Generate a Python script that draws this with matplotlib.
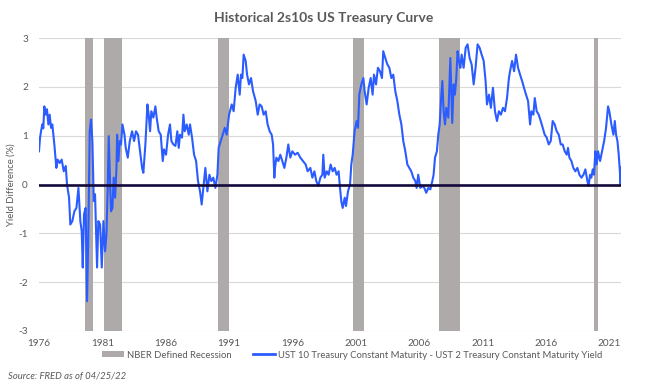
import matplotlib
matplotlib.use("Agg")
import matplotlib.pyplot as plt
from matplotlib.patches import Patch
from matplotlib.lines import Line2D

plt.rcParams['font.family'] = ['Lato', 'DejaVu Sans']

# decimal year, 10y - 2y spread (%)
years = [
    1976.42, 1976.50, 1976.58, 1976.68, 1976.76, 1976.84, 1976.95, 1977.05, 1977.16, 1977.26,
    1977.37, 1977.47, 1977.63, 1977.79, 1977.89, 1978.05, 1978.21, 1978.37, 1978.53, 1978.63,
    1978.79, 1978.89, 1979.05, 1979.21, 1979.37, 1979.53, 1979.68, 1979.79, 1979.87, 1979.97,
    1980.10, 1980.21, 1980.31, 1980.42, 1980.52, 1980.63, 1980.74, 1980.84, 1981.00, 1981.10,
    1981.24, 1981.37, 1981.50, 1981.63, 1981.74, 1981.84, 1981.92, 1982.03, 1982.10, 1982.21,
    1982.31, 1982.42, 1982.53, 1982.58, 1982.68, 1982.79, 1982.89, 1983.00, 1983.16, 1983.26,
    1983.42, 1983.58, 1983.76, 1983.92, 1984.07, 1984.23, 1984.39, 1984.55, 1984.65, 1984.81,
    1984.97, 1985.07, 1985.18, 1985.28, 1985.44, 1985.60, 1985.70, 1985.86, 1986.02, 1986.18,
    1986.28, 1986.44, 1986.60, 1986.75, 1986.86, 1987.02, 1987.18, 1987.33, 1987.44, 1987.54,
    1987.70, 1987.81, 1987.91, 1988.07, 1988.23, 1988.33, 1988.49, 1988.65, 1988.81, 1988.96,
    1989.12, 1989.25, 1989.38, 1989.54, 1989.70, 1989.86, 1990.01, 1990.17, 1990.33, 1990.49,
    1990.59, 1990.75, 1990.91, 1991.07, 1991.22, 1991.41, 1991.62, 1991.77, 1991.93, 1992.09,
    1992.25, 1992.35, 1992.46, 1992.56, 1992.72, 1992.83, 1992.98, 1993.14, 1993.30, 1993.51,
    1993.67, 1993.82, 1993.98, 1994.14, 1994.30, 1994.45, 1994.61, 1994.77, 1994.88, 1994.98,
    1995.03, 1995.14, 1995.30, 1995.45, 1995.61, 1995.77, 1995.93, 1996.08, 1996.24, 1996.40,
    1996.61, 1996.82, 1997.03, 1997.24, 1997.45, 1997.61, 1997.82, 1997.98, 1998.14, 1998.29,
    1998.45, 1998.61, 1998.77, 1998.84, 1998.95, 1999.11, 1999.26, 1999.42, 1999.58, 1999.74,
    1999.89, 2000.05, 2000.16, 2000.26, 2000.37, 2000.53, 2000.63, 2000.79, 2000.95, 2001.05,
    2001.16, 2001.31, 2001.47, 2001.58, 2001.68, 2001.84, 2002.00, 2002.10, 2002.26, 2002.42,
    2002.58, 2002.73, 2002.84, 2003.00, 2003.15, 2003.31, 2003.47, 2003.57, 2003.73, 2003.89,
    2004.05, 2004.21, 2004.36, 2004.52, 2004.68, 2004.84, 2005.00, 2005.15, 2005.31, 2005.47,
    2005.63, 2005.78, 2005.94, 2006.10, 2006.20, 2006.33, 2006.49, 2006.65, 2006.81, 2006.96,
    2007.12, 2007.28, 2007.44, 2007.54, 2007.65, 2007.80, 2007.91, 2008.02, 2008.12, 2008.23,
    2008.33, 2008.44, 2008.54, 2008.70, 2008.86, 2008.96, 2009.01, 2009.12, 2009.22, 2009.33,
    2009.43, 2009.54, 2009.65, 2009.75, 2009.91, 2010.07, 2010.22, 2010.38, 2010.54, 2010.70,
    2010.85, 2011.01, 2011.17, 2011.33, 2011.49, 2011.64, 2011.75, 2011.91, 2012.06, 2012.22,
    2012.38, 2012.54, 2012.69, 2012.85, 2013.01, 2013.17, 2013.33, 2013.48, 2013.57, 2013.73,
    2013.89, 2014.04, 2014.20, 2014.36, 2014.52, 2014.67, 2014.83, 2014.99, 2015.15, 2015.25,
    2015.41, 2015.52, 2015.67, 2015.83, 2015.99, 2016.15, 2016.30, 2016.46, 2016.62, 2016.78,
    2016.93, 2017.09, 2017.25, 2017.41, 2017.57, 2017.72, 2017.88, 2018.04, 2018.14, 2018.25,
    2018.41, 2018.56, 2018.72, 2018.88, 2019.04, 2019.20, 2019.36, 2019.51, 2019.67, 2019.77,
    2019.88, 2019.98, 2020.09, 2020.19, 2020.30, 2020.40, 2020.51, 2020.67, 2020.83, 2020.99,
    2021.14, 2021.30, 2021.40, 2021.56, 2021.72, 2021.83, 2021.93, 2022.04, 2022.14, 2022.25,
    2022.29, 2022.32,
]
spread = [
    0.68, 0.95, 1.09, 1.23, 1.15, 1.60, 1.43, 1.54, 1.23, 1.43,
    1.16, 1.23, 0.82, 0.34, 0.51, 0.44, 0.51, 0.27, 0.38, 0.00,
    -0.27, -0.82, -0.75, -0.55, -0.48, -0.07, -0.75, -0.96, -1.70, -0.61,
    -0.48, -2.39, -1.02, 1.09, 1.33, 0.89, -0.34, -0.20, -1.70, -0.75,
    -0.82, -1.70, -0.75, -1.37, -1.02, -0.07, 0.99, 0.00, -0.55, -0.48,
    0.14, -0.27, 0.34, 1.02, 0.48, 0.89, 0.82, 1.23, 1.02, 0.75,
    0.55, 0.89, 1.09, 0.89, 1.09, 1.02, 0.68, 0.34, 0.24, 0.82,
    1.64, 1.43, 1.09, 1.50, 1.37, 1.60, 1.37, 1.09, 1.02, 0.48,
    0.72, 0.61, 1.02, 1.23, 0.89, 0.82, 0.79, 1.09, 0.75, 1.02,
    0.96, 1.43, 1.09, 1.23, 1.02, 1.23, 0.96, 0.61, 0.48, 0.07,
    -0.14, -0.41, -0.07, 0.34, -0.14, 0.20, 0.07, 0.14, -0.07, 0.20,
    0.75, 0.89, 1.02, 1.16, 1.02, 1.43, 1.64, 1.50, 1.98, 2.25,
    1.84, 2.25, 2.18, 2.66, 2.53, 2.25, 2.05, 2.18, 1.91, 1.71,
    1.43, 1.64, 1.60, 1.43, 1.50, 1.23, 1.09, 1.02, 0.82, 0.14,
    0.34, 0.55, 0.48, 0.61, 0.48, 0.34, 0.55, 0.82, 0.55, 0.68,
    0.61, 0.65, 0.55, 0.48, 0.41, 0.27, 0.34, 0.14, 0.27, 0.07,
    -0.03, 0.14, 0.20, 0.61, 0.14, 0.27, 0.20, 0.41, 0.27, 0.34,
    0.20, 0.27, -0.07, -0.34, -0.48, -0.27, -0.44, -0.14, 0.00, 0.41,
    0.61, 1.09, 1.30, 1.16, 1.84, 2.05, 2.18, 1.91, 1.64, 1.98,
    2.18, 1.84, 2.25, 2.05, 2.39, 2.32, 2.18, 2.73, 2.59, 2.46,
    2.39, 2.18, 2.25, 1.91, 1.71, 1.43, 1.23, 0.89, 0.68, 0.41,
    0.34, 0.27, 0.14, 0.07, -0.07, 0.20, -0.07, -0.03, -0.07, -0.17,
    -0.07, -0.10, 0.07, 0.20, 0.55, 0.68, 1.02, 1.23, 1.71, 2.12,
    1.50, 1.23, 1.57, 1.37, 2.59, 1.71, 1.26, 2.05, 1.84, 2.18,
    2.73, 2.53, 2.39, 2.66, 2.39, 2.80, 2.87, 2.59, 2.46, 2.05,
    2.39, 2.87, 2.80, 2.66, 2.53, 2.12, 1.64, 1.84, 1.57, 1.98,
    1.50, 1.30, 1.50, 1.43, 1.57, 1.50, 1.77, 2.18, 2.32, 2.53,
    2.32, 2.66, 2.39, 2.25, 2.12, 1.98, 1.84, 1.71, 1.23, 1.50,
    1.43, 1.77, 1.50, 1.43, 1.30, 1.16, 1.02, 0.96, 0.82, 0.89,
    1.30, 1.23, 1.09, 1.02, 0.82, 0.82, 0.68, 0.61, 0.75, 0.55,
    0.48, 0.34, 0.27, 0.34, 0.20, 0.14, 0.20, 0.31, 0.07, -0.03,
    0.20, 0.14, 0.31, 0.20, 0.68, 0.41, 0.68, 0.48, 0.68, 0.89,
    1.16, 1.60, 1.50, 1.23, 1.02, 1.30, 1.02, 0.89, 0.61, 0.20,
    0.00, 0.35,
]

# NBER recessions (start, end) as drawn
rec_start = [1980.05, 1981.55, 1990.54, 2001.16, 2007.97, 2020.19]
rec_end = [1980.65, 1983.00, 1991.38, 2002.05, 2009.62, 2020.50]

x_ticks = [1976.42 + 5 * k for k in range(10)]
x_labels = ['1976', '1981', '1986', '1991', '1996', '2001', '2006', '2011', '2016', '2021']
y_ticks = [-3, -2, -1, 0, 1, 2, 3]

grey_txt = '#595959'
rec_col = '#aeaaaa'
line_col = '#2b5cff'

fig = plt.figure(figsize=(6.48, 3.89), dpi=100)
ax = fig.add_axes([39 / 648, 1 - 331 / 389, (621 - 39) / 648, (331 - 38) / 389])

for s, e in zip(rec_start, rec_end):
    ax.axvspan(s, e, color=rec_col, lw=0, zorder=1)

ax.plot(years, spread, color=line_col, lw=1.5, zorder=3)
ax.axhline(0, color='#14093b', lw=1.9, zorder=4)

ax.set_xlim(1976.42, 2022.32)
ax.set_ylim(-3, 3)
ax.set_yticks(y_ticks)
ax.set_yticklabels([str(v) for v in y_ticks])
ax.set_xticks(x_ticks)
ax.set_xticklabels(x_labels)
ax.yaxis.grid(True, color='#d9d9d9', lw=0.8, zorder=0)
ax.set_axisbelow(True)
for sp in ax.spines.values():
    sp.set_visible(False)
ax.tick_params(axis='both', length=0, labelsize=7.2, labelcolor=grey_txt)
ax.tick_params(axis='x', pad=6)
ax.tick_params(axis='y', pad=8)
ax.set_ylabel('Yield Difference (%)', fontsize=6.8, color=grey_txt, labelpad=2)

fig.text(0.5, 1 - 18 / 389, 'Historical 2s10s US Treasury Curve', ha='center', va='center',
         fontsize=10, fontweight='bold', color=grey_txt)

handles = [Patch(color=rec_col, lw=0),
           Line2D([0], [0], color=line_col, lw=2)]
fig.legend(handles, ['NBER Defined Recession',
                     'UST 10 Treasury Constant Maturity - UST 2 Treasury Constant Maturity Yield'],
           loc='center', bbox_to_anchor=(352 / 648, 1 - 355 / 389), ncol=2, frameon=False,
           fontsize=6.8, labelcolor=grey_txt, handlelength=2.3, handletextpad=0.3,
           columnspacing=2.3, handleheight=0.6)

fig.text(8 / 648, 1 - 377 / 389, 'Source: FRED as of 04/25/22', ha='left', va='center',
         fontsize=6.8, style='italic', color=grey_txt)

fig.savefig('out.png', dpi=100)
